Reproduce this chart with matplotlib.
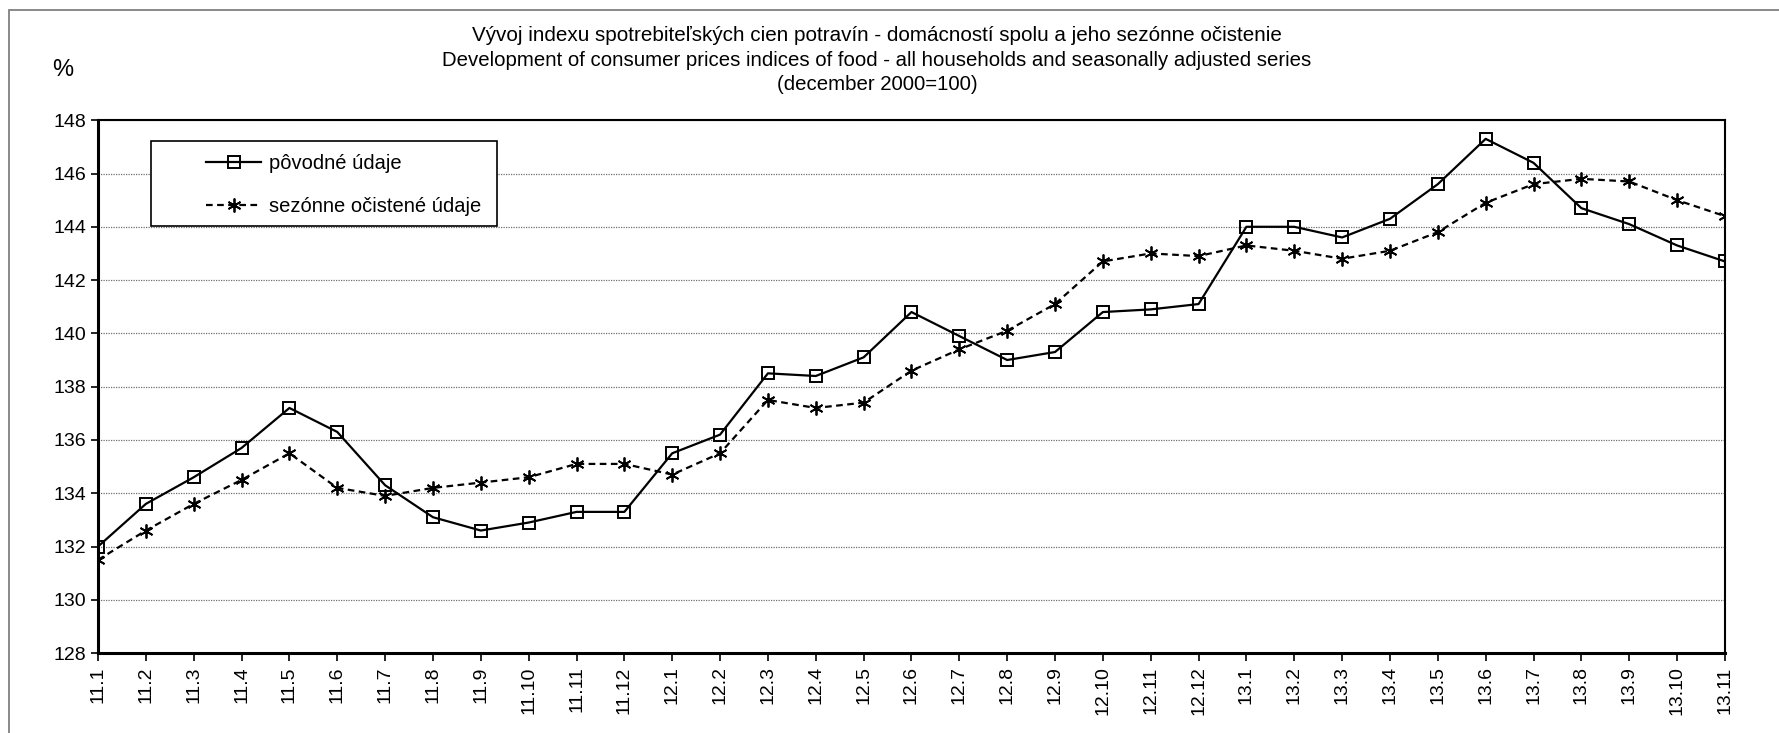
import matplotlib.pyplot as plt
import numpy as np
from matplotlib.patches import Rectangle

# mesiace (rok.mesiac)
mesiace = ['11.1', '11.2', '11.3', '11.4', '11.5', '11.6', '11.7', '11.8', '11.9', '11.10', '11.11', '11.12',
           '12.1', '12.2', '12.3', '12.4', '12.5', '12.6', '12.7', '12.8', '12.9', '12.10', '12.11', '12.12',
           '13.1', '13.2', '13.3', '13.4', '13.5', '13.6', '13.7', '13.8', '13.9', '13.10', '13.11']

povodne = [132.0, 133.6, 134.6, 135.7, 137.2, 136.3, 134.3, 133.1, 132.6, 132.9, 133.3, 133.3,
           135.5, 136.2, 138.5, 138.4, 139.1, 140.8, 139.9, 139.0, 139.3, 140.8, 140.9, 141.1,
           144.0, 144.0, 143.6, 144.3, 145.6, 147.3, 146.4, 144.7, 144.1, 143.3, 142.7]

ocistene = [131.5, 132.6, 133.6, 134.5, 135.5, 134.2, 133.9, 134.2, 134.4, 134.6, 135.1, 135.1,
            134.7, 135.5, 137.5, 137.2, 137.4, 138.6, 139.4, 140.1, 141.1, 142.7, 143.0, 142.9,
            143.3, 143.1, 142.8, 143.1, 143.8, 144.9, 145.6, 145.8, 145.7, 145.0, 144.4]

y_ticks = np.arange(128, 149, 2)

plt.rcParams['font.family'] = ['Liberation Sans', 'DejaVu Sans']

fig = plt.figure(figsize=(17.79, 7.33), dpi=100)
ax = fig.add_axes([0.0551, 0.109, 0.9145, 0.727])

# vonkajsi ramcek grafu
fig.add_artist(Rectangle((0.005, -0.5), 1.5, 1.486, transform=fig.transFigure,
                         fill=False, edgecolor='#808080', linewidth=1.3, clip_on=False))

x = np.arange(len(mesiace))
ax.plot(x, povodne, color='black', linewidth=1.6, marker='s', markersize=9,
        markerfacecolor='none', markeredgecolor='black', markeredgewidth=1.4,
        label='pôvodné údaje', zorder=3)
ax.plot(x, ocistene, color='black', linewidth=1.6, linestyle=(0, (3, 2)), marker=(6, 2, 0),
        markersize=10, markeredgewidth=1.3, label='sezónne očistené údaje', zorder=3)

ax.set_xlim(0, len(mesiace) - 1)
ax.set_ylim(128, 148)
ax.set_yticks(y_ticks)
ax.set_xticks(x)
ax.set_xticklabels(mesiace, rotation=90, fontsize=14)
ax.tick_params(axis='y', labelsize=14, length=5, direction='out', width=1.2)
ax.tick_params(axis='x', length=6, direction='out', width=1.2)
ax.yaxis.grid(True, color='#707070', linestyle=(0, (1, 1)), linewidth=0.9)
ax.set_axisbelow(True)

for side in ['left', 'bottom']:
    ax.spines[side].set_linewidth(2.2)
for side in ['top', 'right']:
    ax.spines[side].set_linewidth(1.5)

# ramcek legendy
ax.add_patch(Rectangle((0.0326, 0.801), 0.2124, 0.160, transform=ax.transAxes,
                       facecolor='white', edgecolor='black', linewidth=1.2, zorder=4))
leg = ax.legend(loc='upper left', bbox_to_anchor=(0.0604, 0.955), frameon=False,
                fontsize=14.5, handlelength=2.7, handletextpad=0.4, labelspacing=1.2,
                borderpad=0.5, borderaxespad=0)
leg.set_zorder(5)

fig.text(0.493, 0.951, 'Vývoj indexu spotrebiteľských cien potravín - domácností spolu a jeho sezónne očistenie',
         ha='center', va='center', fontsize=14.9)
fig.text(0.493, 0.918, 'Development of consumer prices indices of food - all households and seasonally adjusted series',
         ha='center', va='center', fontsize=14.7)
fig.text(0.493, 0.885, '(december 2000=100)', ha='center', va='center', fontsize=14.7)
fig.text(0.035, 0.904, '%', ha='center', va='center', fontsize=17)

fig.savefig('out.png', dpi=100)
